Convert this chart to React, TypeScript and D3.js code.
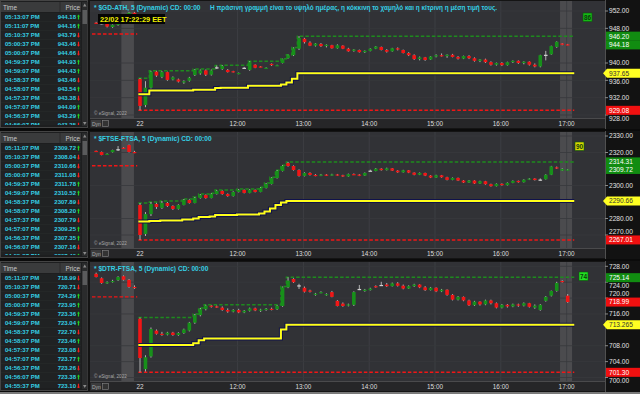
import React, { useEffect, useRef } from "react";
import * as d3 from "d3";

// [open, high, low, close] per 5 minute bar, bar 0 = first bar of the 22nd
const gdBars = [
  [936.3, 936.5, 929.08, 930.1], [930.3, 935.8, 929.8, 934.3], [934.3, 938.2, 934.0, 938.0], [938.0, 938.2, 936.8, 937.1],
  [936.8, 938.1, 936.5, 937.9], [937.9, 938.0, 935.9, 936.1], [936.2, 936.9, 936.0, 936.7], [936.2, 936.4, 935.5, 935.7],
  [935.5, 936.0, 935.2, 935.8], [935.9, 936.8, 935.7, 936.6], [937.2, 938.6, 937.0, 938.4], [937.6, 938.5, 937.3, 938.3],
  [938.3, 938.5, 937.0, 937.3], [937.3, 938.5, 937.1, 938.3], [939.0, 939.4, 938.6, 939.0], [938.6, 939.5, 938.4, 939.3],
  [938.4, 938.6, 937.8, 937.9], [938.1, 938.2, 937.8, 937.9], [937.5, 937.8, 937.4, 937.7], [938.9, 939.1, 938.7, 938.9],
  [938.4, 940.4, 938.2, 940.2], [939.6, 939.7, 938.8, 938.9], [939.2, 939.3, 939.0, 939.1], [938.8, 939.0, 938.7, 938.9],
  [939.8, 939.9, 939.3, 939.5], [939.4, 939.6, 939.3, 939.5], [940.0, 941.0, 939.9, 940.9], [941.1, 941.9, 941.0, 941.8],
  [941.8, 943.6, 941.6, 943.4], [943.3, 946.2, 943.0, 945.8], [945.6, 945.8, 944.5, 944.8], [944.7, 945.0, 943.9, 944.0],
  [944.0, 944.6, 943.8, 944.5], [944.4, 944.6, 943.7, 943.9], [943.9, 944.3, 943.6, 944.2], [944.1, 944.2, 943.3, 943.4],
  [943.4, 944.3, 943.3, 944.1], [944.0, 944.1, 943.2, 943.3], [943.3, 943.5, 942.6, 942.7], [942.8, 943.2, 942.6, 943.1],
  [943.0, 943.1, 942.4, 942.5], [942.5, 942.9, 942.3, 942.8], [942.8, 943.4, 942.7, 943.3], [943.3, 943.9, 943.2, 943.8],
  [943.7, 943.8, 942.9, 943.0], [943.0, 943.2, 942.4, 942.6], [942.7, 943.5, 942.6, 943.4], [943.4, 943.6, 942.9, 943.1],
  [943.0, 943.1, 942.2, 942.3], [942.3, 942.5, 941.6, 941.8], [941.8, 942.0, 940.7, 940.9], [940.9, 941.5, 940.6, 941.3],
  [941.3, 941.4, 940.5, 940.7], [940.8, 941.6, 940.7, 941.5], [941.5, 942.0, 941.3, 941.8], [941.8, 942.2, 941.5, 941.6],
  [941.6, 942.0, 941.2, 941.9], [941.9, 942.1, 941.3, 941.4], [941.4, 941.6, 940.8, 941.0], [941.0, 941.7, 940.9, 941.6],
  [941.6, 941.8, 940.9, 941.1], [941.1, 941.3, 940.3, 940.5], [940.5, 940.9, 940.2, 940.8], [940.8, 941.0, 940.0, 940.2],
  [940.2, 940.4, 939.4, 939.6], [939.6, 940.1, 939.4, 940.0], [940.0, 940.2, 939.3, 939.5], [939.5, 940.3, 939.4, 940.2],
  [940.2, 940.6, 940.0, 940.5], [940.5, 940.6, 939.8, 940.0], [940.0, 940.4, 939.7, 940.3], [940.3, 940.4, 939.4, 939.6],
  [939.6, 939.9, 939.0, 939.2], [939.2, 941.9, 939.0, 941.8], [941.9, 942.8, 940.6, 941.9], [942.0, 944.0, 941.9, 943.9],
  [943.7, 945.0, 943.5, 944.9], [944.5, 944.6, 944.1, 944.2], [944.3, 944.4, 944.1, 944.18],
];
// last bars of the previous session, ending at bar -1
const gdPrev = [
  [949.3, 949.5, 949.0, 949.1], [949.2, 949.4, 948.9, 949.2], [949.1, 949.3, 948.2, 948.4], [948.3, 948.9, 948.1, 948.8],
  [948.8, 949.5, 948.6, 949.3], [949.3, 950.2, 949.2, 950.0], [950.0, 951.8, 949.8, 951.6], [951.6, 951.8, 950.5, 950.7],
];

const ftseBars = [
  [2288.2, 2289.4, 2267.01, 2270.0], [2270.6, 2283.9, 2269.4, 2282.7], [2282.7, 2290.0, 2281.5, 2288.8], [2288.8, 2289.5, 2285.8, 2287.0],
  [2286.4, 2290.6, 2285.8, 2289.4], [2289.4, 2290.0, 2287.0, 2287.6], [2287.6, 2288.0, 2285.2, 2285.8], [2285.8, 2288.6, 2285.4, 2288.2],
  [2288.2, 2291.8, 2288.0, 2291.2], [2291.2, 2291.6, 2289.0, 2289.4], [2289.4, 2293.0, 2289.2, 2292.4], [2292.4, 2294.8, 2292.0, 2294.2],
  [2294.2, 2294.6, 2292.0, 2292.4], [2292.4, 2295.3, 2292.2, 2294.8], [2294.8, 2297.2, 2294.5, 2296.7], [2296.7, 2297.0, 2294.4, 2294.8],
  [2294.8, 2295.2, 2293.2, 2293.6], [2293.6, 2296.5, 2293.3, 2296.1], [2296.1, 2297.9, 2295.8, 2297.3], [2297.3, 2297.6, 2295.2, 2295.5],
  [2295.5, 2297.8, 2295.3, 2297.3], [2297.3, 2297.6, 2295.8, 2296.1], [2296.1, 2299.0, 2295.9, 2298.5], [2298.5, 2301.5, 2298.2, 2300.9],
  [2300.9, 2305.0, 2300.6, 2304.5], [2304.5, 2309.3, 2304.2, 2308.8], [2308.8, 2312.3, 2308.5, 2311.8], [2313.6, 2314.31, 2311.4, 2311.8],
  [2311.8, 2312.2, 2309.0, 2309.4], [2309.4, 2309.8, 2305.4, 2305.8], [2305.8, 2308.0, 2305.5, 2307.6], [2307.6, 2308.0, 2306.0, 2306.4],
  [2306.4, 2306.9, 2305.6, 2306.0], [2306.0, 2307.0, 2305.7, 2306.6], [2306.6, 2306.9, 2305.8, 2306.1], [2306.1, 2307.1, 2305.9, 2306.7],
  [2306.7, 2307.0, 2305.9, 2306.2], [2306.2, 2306.5, 2305.2, 2305.5], [2305.5, 2307.2, 2305.3, 2306.9], [2306.9, 2307.3, 2306.3, 2306.6],
  [2306.6, 2306.9, 2305.7, 2306.0], [2306.0, 2307.9, 2305.8, 2307.6], [2309.0, 2309.6, 2308.6, 2309.0], [2308.8, 2310.6, 2308.6, 2310.2],
  [2310.2, 2310.5, 2309.0, 2309.3], [2309.3, 2310.8, 2309.1, 2310.4], [2310.4, 2310.6, 2308.8, 2309.0], [2309.0, 2309.3, 2307.7, 2308.0],
  [2308.0, 2309.5, 2307.8, 2309.2], [2309.2, 2309.4, 2307.5, 2307.8], [2307.8, 2308.0, 2306.2, 2306.5], [2306.5, 2307.9, 2306.3, 2307.6],
  [2307.6, 2307.8, 2305.7, 2306.0], [2306.0, 2306.3, 2304.5, 2304.8], [2304.8, 2306.5, 2304.6, 2306.2], [2306.2, 2306.4, 2304.7, 2305.0],
  [2305.0, 2305.3, 2303.1, 2303.4], [2303.4, 2304.9, 2303.2, 2304.6], [2304.6, 2304.8, 2302.7, 2303.0], [2303.0, 2303.3, 2301.5, 2301.8],
  [2301.8, 2303.3, 2301.6, 2303.0], [2303.0, 2303.2, 2300.9, 2301.2], [2301.2, 2302.9, 2301.0, 2302.6], [2302.6, 2302.8, 2300.5, 2300.8],
  [2300.8, 2301.1, 2299.3, 2299.6], [2299.6, 2301.3, 2299.4, 2301.0], [2301.0, 2301.3, 2299.9, 2300.2], [2300.2, 2301.9, 2300.0, 2301.6],
  [2301.6, 2303.1, 2301.4, 2302.8], [2302.8, 2303.0, 2301.7, 2302.0], [2302.0, 2303.8, 2301.8, 2303.5], [2303.5, 2304.5, 2303.3, 2304.2],
  [2304.2, 2304.4, 2303.0, 2303.3], [2303.6, 2304.3, 2302.9, 2303.6], [2303.8, 2306.8, 2303.6, 2306.5], [2306.5, 2311.9, 2306.3, 2311.6],
  [2311.0, 2311.5, 2310.0, 2310.3], [2309.0, 2310.4, 2308.8, 2310.0], [2309.4, 2310.0, 2309.2, 2309.72],
];
const ftsePrev = [
  [2321.0, 2321.2, 2320.7, 2320.8], [2320.3, 2320.6, 2318.3, 2318.5], [2318.8, 2319.5, 2318.6, 2319.2], [2320.2, 2321.7, 2320.0, 2321.5],
  [2322.0, 2323.9, 2320.9, 2322.0], [2322.9, 2323.2, 2322.4, 2322.6], [2324.5, 2324.8, 2320.0, 2320.3], [2320.3, 2321.0, 2319.6, 2320.1],
];

const dtrBars = [
  [714.8, 715.1, 701.3, 704.9], [702.1, 705.6, 701.5, 705.1], [705.3, 712.6, 705.0, 712.2], [711.8, 712.1, 710.8, 711.0],
  [711.0, 711.5, 710.5, 710.8], [710.8, 711.5, 710.6, 711.3], [711.3, 711.5, 710.5, 710.7], [710.7, 711.4, 710.5, 711.2],
  [711.2, 712.3, 711.0, 712.1], [711.8, 714.0, 711.6, 713.8], [713.8, 716.0, 713.5, 715.7], [715.7, 717.5, 715.4, 717.2],
  [717.2, 718.3, 716.9, 718.1], [718.1, 718.2, 717.6, 717.8], [717.9, 718.1, 717.5, 717.7], [717.6, 717.9, 716.8, 717.0],
  [717.0, 717.4, 716.3, 716.6], [716.6, 717.2, 716.4, 717.0], [717.0, 717.3, 716.2, 716.4], [716.4, 717.0, 716.2, 716.8],
  [716.8, 717.6, 716.6, 717.4], [717.4, 717.6, 716.7, 716.9], [716.9, 717.3, 716.5, 717.1], [717.1, 717.5, 716.8, 717.3],
  [717.3, 717.6, 716.9, 717.1], [717.2, 718.2, 717.0, 718.0], [718.0, 722.9, 717.8, 722.7], [722.7, 725.23, 722.5, 724.4],
  [724.8, 725.0, 723.8, 724.0], [723.2, 723.6, 722.3, 723.2], [722.6, 722.9, 721.4, 721.6], [721.9, 722.1, 721.4, 721.6],
  [720.8, 721.3, 720.6, 721.1], [721.4, 721.7, 721.2, 721.5], [720.8, 721.2, 720.6, 721.0], [721.5, 721.8, 720.2, 720.3],
  [719.3, 719.5, 717.9, 718.0], [718.6, 718.9, 717.8, 718.0], [718.2, 718.6, 717.9, 718.4], [718.3, 721.7, 718.0, 721.5],
  [722.3, 723.3, 722.0, 722.3], [721.8, 722.3, 721.6, 722.1], [722.0, 722.6, 721.9, 722.4], [723.0, 723.2, 722.6, 722.8],
  [723.3, 724.1, 723.2, 723.3], [723.4, 723.8, 722.8, 723.0], [723.0, 723.9, 722.9, 723.7], [723.7, 724.0, 722.9, 723.1],
  [723.1, 723.4, 722.2, 722.4], [722.4, 723.2, 722.3, 723.0], [723.0, 723.6, 722.8, 723.4], [723.4, 723.5, 722.5, 722.7],
  [722.7, 723.0, 721.8, 722.0], [722.0, 722.8, 721.9, 722.6], [722.6, 722.7, 721.5, 721.7], [721.7, 722.3, 721.5, 722.1],
  [722.1, 722.2, 720.6, 720.8], [720.8, 721.0, 719.4, 719.6], [719.6, 720.5, 719.4, 720.3], [720.3, 720.4, 719.2, 719.4],
  [719.4, 719.6, 718.0, 718.2], [718.2, 719.3, 718.0, 719.1], [719.1, 719.2, 718.1, 718.4], [718.4, 719.6, 718.2, 719.4],
  [719.4, 719.6, 718.4, 718.7], [718.7, 718.9, 717.4, 717.6], [717.6, 718.5, 717.4, 718.3], [718.3, 718.5, 717.6, 717.9],
  [717.9, 718.6, 717.7, 718.4], [718.4, 718.6, 717.8, 718.1], [718.1, 718.9, 717.9, 718.7], [718.7, 718.8, 717.6, 717.8],
  [717.6, 718.4, 717.3, 718.1], [717.0, 718.5, 716.8, 718.3], [719.3, 720.5, 719.1, 720.3], [720.6, 721.9, 720.4, 721.8],
  [721.8, 724.1, 721.6, 723.8], [724.3, 724.5, 723.9, 724.0], [720.6, 721.0, 718.8, 718.99],
];
const dtrPrev = [
  [726.1, 726.4, 725.2, 725.3], [725.0, 725.2, 723.6, 723.8], [723.8, 724.2, 723.6, 724.0], [724.0, 724.6, 723.9, 724.3],
  [724.5, 725.5, 724.3, 725.3], [725.5, 725.7, 724.4, 724.6], [724.6, 724.8, 722.6, 722.8], [722.8, 723.2, 722.3, 722.6],
];

// price scale labels that show (the others sit under a tag)
const gdTicks = [952, 948, 940, 936, 932, 928];
const ftseTicks = [2330, 2320, 2300, 2280, 2270];
const dtrTicks = [728, 724, 720, 716, 708, 704, 700];

// price tags on the right scale: value, text, kind
const gdTags = [[946.2, "946.20", "up"], [944.18, "944.18", "up"], [937.65, "937.65", "mid"], [929.08, "929.08", "down"]];
const ftseTags = [[2314.31, "2314.31", "up"], [2309.72, "2309.72", "up"], [2290.66, "2290.66", "mid"], [2267.01, "2267.01", "down"]];
const dtrTags = [[725.14, "725.14", "up"], [718.99, "718.99", "down"], [713.265, "713.265", "mid"], [701.3, "701.30", "down"]];

// time & sales lists
const gdTimes = ["05:13:07 PM", "05:11:07 PM", "05:10:37 PM", "05:00:37 PM", "05:00:07 PM", "04:59:37 PM", "04:59:07 PM", "04:58:37 PM", "04:58:07 PM", "04:57:37 PM", "04:57:07 PM", "04:56:37 PM", "04:56:07 PM"];
const gdPrices = ["944.18", "944.16", "943.79", "943.46", "944.66", "944.93", "944.43", "943.46", "943.54", "943.38", "944.09", "943.29", "943.25"];
const gdDirs = ["u", "u", "d", "d", "d", "u", "u", "d", "u", "d", "u", "u", "d"];
const ftseTimes = ["05:11:07 PM", "05:10:37 PM", "05:00:37 PM", "05:00:07 PM", "04:59:37 PM", "04:59:07 PM", "04:58:37 PM", "04:58:07 PM", "04:57:37 PM", "04:57:07 PM", "04:56:37 PM", "04:56:07 PM", "04:55:37 PM"];
const ftsePrices = ["2309.72", "2308.04", "2310.66", "2311.08", "2311.78", "2310.52", "2307.89", "2308.20", "2307.79", "2309.25", "2307.35", "2307.16", "2307.40"];
const ftseDirs = ["u", "d", "d", "d", "u", "u", "d", "u", "d", "u", "u", "d", "u"];
const dtrTimes = ["05:11:07 PM", "05:10:37 PM", "05:00:37 PM", "05:00:07 PM", "04:59:37 PM", "04:59:07 PM", "04:58:37 PM", "04:58:07 PM", "04:57:37 PM", "04:57:07 PM", "04:56:37 PM", "04:56:07 PM", "04:55:37 PM"];
const dtrPrices = ["718.99", "720.71", "724.29", "723.95", "723.36", "723.04", "722.70", "723.46", "723.08", "723.77", "723.26", "723.38", "723.10"];
const dtrDirs = ["d", "d", "u", "u", "u", "u", "d", "u", "d", "u", "d", "u", "d"];

// x axis: minutes of the day
const tickMinutes = [631, 720, 780, 840, 900, 960, 1020];
const tickLabels = ["22", "12:00", "13:00", "14:00", "15:00", "16:00", "17:00"];
const sessionBands = [[614, 625.5], [1014, 1025]];
const FIRST_BAR = 631;

const FONT = "'Liberation Sans', Arial, sans-serif";
const CYAN = "#35cfe4";
const UP = "#17901a";
const DOWN = "#f01616";
const WICK = "#d2d2d2";

const panelDefs = [
  { top: 0, h: 129, title: "* $GD-ATH, 5 (Dynamic) CD: 00:00", bars: gdBars, prev: gdPrev, prevLow: 946.7, ticks: gdTicks, dom: [952, 928], rng: [11, 115], tags: gdTags, times: gdTimes, prices: gdPrices, dirs: gdDirs, badge: "86", badgeFill: "#16b816", badgePos: [583, 13] },
  { top: 131, h: 128, title: "* $FTSE-FTSA, 5 (Dynamic) CD: 00:00", bars: ftseBars, prev: ftsePrev, prevLow: 2312.0, ticks: ftseTicks, dom: [2330, 2270], rng: [5, 104], tags: ftseTags, times: ftseTimes, prices: ftsePrices, dirs: ftseDirs, badge: "90", badgeFill: "#d8d800", badgePos: [575, 11] },
  { top: 261, h: 131, title: "* $DTR-FTSA, 5 (Dynamic) CD: 00:00", bars: dtrBars, prev: dtrPrev, prevLow: 720.3, ticks: dtrTicks, dom: [728, 700], rng: [5.3, 116.5], tags: dtrTags, times: dtrTimes, prices: dtrPrices, dirs: dtrDirs, badge: "74", badgeFill: "#22e022", badgePos: [579, 11] },
];

const PLOT_L = 90;
const PLOT_R = 605;

function drawTable(g, p) {
  const h = p.h;
  g.append("rect").attr("x", 0.5).attr("y", 0.5).attr("width", 87).attr("height", h - 2)
    .attr("fill", "#1d1e1f").attr("stroke", "#444");
  g.append("rect").attr("x", 1).attr("y", 2).attr("width", 80).attr("height", 10).attr("fill", "#3a3b3c");
  g.append("text").attr("x", 3).attr("y", 9.5).attr("font-size", 6.4).attr("fill", "#c8c8c8").text("Time");
  g.append("text").attr("x", 80).attr("y", 9.5).attr("font-size", 6.4).attr("fill", "#c8c8c8")
    .attr("text-anchor", "end").text("Price");
  g.append("line").attr("x1", 60).attr("x2", 60).attr("y1", 2).attr("y2", 12).attr("stroke", "#2a2a2a");

  const clipId = `tclip${p.top}`;
  g.append("clipPath").attr("id", clipId).append("rect").attr("x", 0).attr("y", 12).attr("width", 82).attr("height", h - 16);
  const rows = g.append("g").attr("clip-path", `url(#${clipId})`);
  p.times.forEach((t, k) => {
    const y = 13 + k * 9;
    rows.append("rect").attr("x", 1).attr("y", y).attr("width", 80).attr("height", 8.4).attr("fill", "#202223");
    rows.append("line").attr("x1", 1).attr("x2", 81).attr("y1", y + 8.7).attr("y2", y + 8.7).attr("stroke", "#2e3031").attr("stroke-width", 0.6);
    rows.append("text").attr("x", 5).attr("y", y + 6.4).attr("font-size", 6).attr("font-weight", "bold")
      .attr("fill", CYAN).text(t);
    rows.append("text").attr("x", 76).attr("y", y + 6.4).attr("font-size", 6).attr("font-weight", "bold")
      .attr("text-anchor", "end").attr("fill", CYAN).text(p.prices[k]);
    const ax = 78.5;
    const ay = y + 4.2;
    const up = p.dirs[k] === "u";
    rows.append("path")
      .attr("d", up
        ? `M${ax},${ay - 2.6} L${ax + 1.5},${ay - 0.6} L${ax + 0.6},${ay - 0.6} L${ax + 0.6},${ay + 2.4} L${ax - 0.6},${ay + 2.4} L${ax - 0.6},${ay - 0.6} L${ax - 1.5},${ay - 0.6} Z`
        : `M${ax},${ay + 2.6} L${ax + 1.5},${ay + 0.6} L${ax + 0.6},${ay + 0.6} L${ax + 0.6},${ay - 2.4} L${ax - 0.6},${ay - 2.4} L${ax - 0.6},${ay + 0.6} L${ax - 1.5},${ay + 0.6} Z`)
      .attr("fill", up ? "#22d022" : "#f02020");
  });

  // scrollbar
  g.append("rect").attr("x", 82).attr("y", 2).attr("width", 5.5).attr("height", h - 5).attr("fill", "#2a2b2c");
  g.append("rect").attr("x", 82.5).attr("y", 10).attr("width", 4.5).attr("height", 14).attr("fill", "#5a5b5c");
  g.append("path").attr("d", `M84.75,3.5 L86.5,6.5 L83,6.5 Z`).attr("fill", "#8a8a8a");
  g.append("path").attr("d", `M84.75,${h - 4} L86.5,${h - 7} L83,${h - 7} Z`).attr("fill", "#8a8a8a");
}

function drawChart(g, p) {
  const h = p.h;
  const plotBottom = h - 11;
  const x = d3.scaleLinear().domain([FIRST_BAR, FIRST_BAR + 5 * 78]).range([140, 567.7]);
  const y = d3.scaleLinear().domain(p.dom).range(p.rng);
  const barX = (i) => x(FIRST_BAR + 5 * i);
  const bw = 3.6;

  g.append("rect").attr("x", 88).attr("y", 0).attr("width", 552).attr("height", h).attr("fill", "#141414");
  g.append("rect").attr("x", PLOT_L).attr("y", 1).attr("width", PLOT_R - PLOT_L).attr("height", plotBottom - 1)
    .attr("fill", "#313236");
  // x axis strip
  g.append("rect").attr("x", PLOT_L).attr("y", plotBottom).attr("width", PLOT_R - PLOT_L).attr("height", h - plotBottom - 1)
    .attr("fill", "#262628");
  g.append("line").attr("x1", PLOT_L).attr("x2", PLOT_R).attr("y1", plotBottom + 0.5).attr("y2", plotBottom + 0.5)
    .attr("stroke", "#4a4a4c");

  const clipId = `pclip${p.top}`;
  g.append("clipPath").attr("id", clipId).append("rect").attr("x", PLOT_L).attr("y", 1).attr("width", PLOT_R - PLOT_L).attr("height", plotBottom - 1);
  const plot = g.append("g").attr("clip-path", `url(#${clipId})`);

  sessionBands.forEach(([a, b]) => {
    plot.append("rect").attr("x", x(a)).attr("y", 1).attr("width", x(b) - x(a)).attr("height", plotBottom - 1)
      .attr("fill", "#4b4b4e");
  });
  // grid
  tickMinutes.slice(1).forEach((m) => {
    plot.append("line").attr("x1", x(m)).attr("x2", x(m)).attr("y1", 1).attr("y2", plotBottom)
      .attr("stroke", "#3d3e43").attr("stroke-width", 1);
  });
  p.ticks.forEach((t) => {
    plot.append("line").attr("x1", PLOT_L).attr("x2", PLOT_R).attr("y1", y(t)).attr("y2", y(t))
      .attr("stroke", "#37383c").attr("stroke-width", 0.8);
  });

  // previous session low
  plot.append("line").attr("x1", PLOT_L + 2).attr("x2", x(FIRST_BAR - 2.5)).attr("y1", y(p.prevLow)).attr("y2", y(p.prevLow))
    .attr("stroke", DOWN).attr("stroke-width", 1.4).attr("stroke-dasharray", "3.5,2");

  // running high / low / mid
  const hiArr = [];
  const loArr = [];
  let hi = -Infinity;
  let lo = Infinity;
  p.bars.forEach((b, i) => {
    hi = Math.max(hi, b[1]);
    lo = Math.min(lo, b[2]);
    hiArr.push([FIRST_BAR + 5 * i - 1.5, hi]);
    loArr.push([FIRST_BAR + 5 * i - 1.5, lo]);
  });
  const endM = FIRST_BAR + 5 * 79.2;
  hiArr.push([endM, hi]);
  loArr.push([endM, lo]);
  const midArr = hiArr.map((d, k) => [d[0], (d[1] + loArr[k][1]) / 2]);
  const line = d3.line().x((d) => x(d[0])).y((d) => y(d[1])).curve(d3.curveStepAfter);

  plot.append("path").attr("d", line(hiArr)).attr("fill", "none").attr("stroke", "#1e8a1e")
    .attr("stroke-width", 1.5).attr("stroke-dasharray", "3.5,2");
  plot.append("path").attr("d", line(loArr)).attr("fill", "none").attr("stroke", DOWN)
    .attr("stroke-width", 1.5).attr("stroke-dasharray", "3.5,2");

  // candles
  const drawBars = (bars, offset) => {
    bars.forEach((b, k) => {
      const i = k + offset;
      const cx = barX(i);
      const [o, hh, l, c] = b;
      plot.append("line").attr("x1", cx).attr("x2", cx).attr("y1", y(hh)).attr("y2", y(l))
        .attr("stroke", WICK).attr("stroke-width", 0.8);
      const top = Math.min(y(o), y(c));
      const bh = Math.max(1.2, Math.abs(y(o) - y(c)));
      plot.append("rect").attr("x", cx - bw / 2).attr("y", top).attr("width", bw).attr("height", bh)
        .attr("fill", c > o ? UP : c < o ? DOWN : WICK);
    });
  };
  drawBars(p.prev, -p.prev.length);
  drawBars(p.bars, 0);

  plot.append("path").attr("d", line(midArr)).attr("fill", "none").attr("stroke", "#10124a").attr("stroke-width", 4);
  plot.append("path").attr("d", line(midArr)).attr("fill", "none").attr("stroke", "#ffff1a").attr("stroke-width", 2);

  // copyright
  g.append("text").attr("x", 94).attr("y", plotBottom - 3).attr("font-size", 4.6).attr("fill", "#a8a8a8")
    .text("© eSignal, 2022");

  // x axis labels
  tickMinutes.forEach((m, k) => {
    g.append("text").attr("x", x(m)).attr("y", h - 3.5).attr("font-size", 6.4).attr("text-anchor", "middle")
      .attr("fill", "#dedede").text(tickLabels[k]);
  });
  g.append("rect").attr("x", 91).attr("y", plotBottom + 2).attr("width", 10).attr("height", 7).attr("fill", "#3c3c3e");
  g.append("text").attr("x", 92).attr("y", plotBottom + 7.6).attr("font-size", 5).attr("fill", "#aaa").text("Dyn");
  g.append("rect").attr("x", 102.5).attr("y", plotBottom + 2.5).attr("width", 6).attr("height", 6)
    .attr("fill", "#333").attr("stroke", "#888").attr("stroke-width", 0.6);

  // header
  g.append("text").attr("x", 94).attr("y", 10).attr("font-size", 6.6).attr("font-weight", "bold")
    .attr("fill", CYAN).text(p.title);

  // right price scale; a label that half sits under a tag is pushed clear of it
  g.append("rect").attr("x", PLOT_R).attr("y", 0).attr("width", 640 - PLOT_R).attr("height", h).attr("fill", "#121212");
  g.append("line").attr("x1", PLOT_R + 0.5).attr("x2", PLOT_R + 0.5).attr("y1", 0).attr("y2", h).attr("stroke", "#505050");
  p.ticks.forEach((t) => {
    g.append("line").attr("x1", PLOT_R).attr("x2", PLOT_R + 3).attr("y1", y(t)).attr("y2", y(t)).attr("stroke", "#888");
    let ly = y(t);
    p.tags.forEach(([v]) => {
      const d = y(t) - y(v);
      if (Math.abs(d) < 8) ly = y(v) + (d >= 0 ? 8 : -8);
    });
    g.append("text").attr("x", 609).attr("y", ly + 2.4).attr("font-size", 6.6).attr("fill", "#e2e2e2")
      .text(d3.format(".2f")(t));
  });
  p.tags.forEach(([v, label, kind]) => {
    const ty = y(v);
    const fill = kind === "up" ? "#118c11" : kind === "down" ? "#f01010" : "#ffff22";
    if (kind === "mid") {
      g.append("path").attr("d", `M603,${ty} L607,${ty - 4.5} L640,${ty - 4.5} L640,${ty + 4.5} L607,${ty + 4.5} Z`)
        .attr("fill", fill);
    } else {
      g.append("rect").attr("x", 606).attr("y", ty - 4.5).attr("width", 34).attr("height", 9).attr("fill", fill);
    }
    g.append("text").attr("x", 609).attr("y", ty + 2.4).attr("font-size", 6.6)
      .attr("fill", kind === "mid" ? "#333" : "#fff").text(label);
  });

  // strength badge
  const [bx, by] = p.badgePos;
  g.append("rect").attr("x", bx).attr("y", by).attr("width", 9).attr("height", 8.5).attr("fill", p.badgeFill)
    .attr("stroke", "#0a5a0a").attr("stroke-width", 0.6);
  g.append("text").attr("x", bx + 4.5).attr("y", by + 6.6).attr("font-size", 6.4).attr("font-weight", "bold")
    .attr("text-anchor", "middle").attr("fill", "#0c3a0c").text(p.badge);
}

export default function App() {
  const ref = useRef(null);

  useEffect(() => {
    document.body.style.margin = "0";
    const svg = d3.select(ref.current);
    svg.selectAll("*").remove();
    svg.append("rect").attr("width", 640).attr("height", 394).attr("fill", "#0b0b0b");

    panelDefs.forEach((p) => {
      const g = svg.append("g").attr("transform", `translate(0,${p.top})`).attr("font-family", FONT);
      drawChart(g, p);
      drawTable(g, p);
    });

    // note across the top panel
    const top = svg.append("g").attr("font-family", FONT);
    top.append("text").attr("x", 210).attr("y", 10).attr("font-size", 6.3).attr("font-weight", "bold")
      .attr("fill", CYAN).attr("textLength", 287).attr("lengthAdjust", "spacingAndGlyphs")
      .text("Η πράσινη γραμμή είναι το υψηλό ημέρας, η κόκκινη το χαμηλό και η κίτρινη η μέση τιμή τους.");
    top.append("rect").attr("x", 98).attr("y", 14).attr("width", 67).attr("height", 10).attr("fill", "#050505");
    top.append("text").attr("x", 100).attr("y", 21.8).attr("font-size", 7.4).attr("font-weight", "bold")
      .attr("fill", "#f2f200").text("22/02 17:22:29 EET");

    svg.append("rect").attr("x", 0).attr("y", 392).attr("width", 640).attr("height", 2).attr("fill", "#7a7a7a");
  }, []);

  return <svg ref={ref} width={640} height={394} style={{ position: "absolute", left: 0, top: 0 }} />;
}
